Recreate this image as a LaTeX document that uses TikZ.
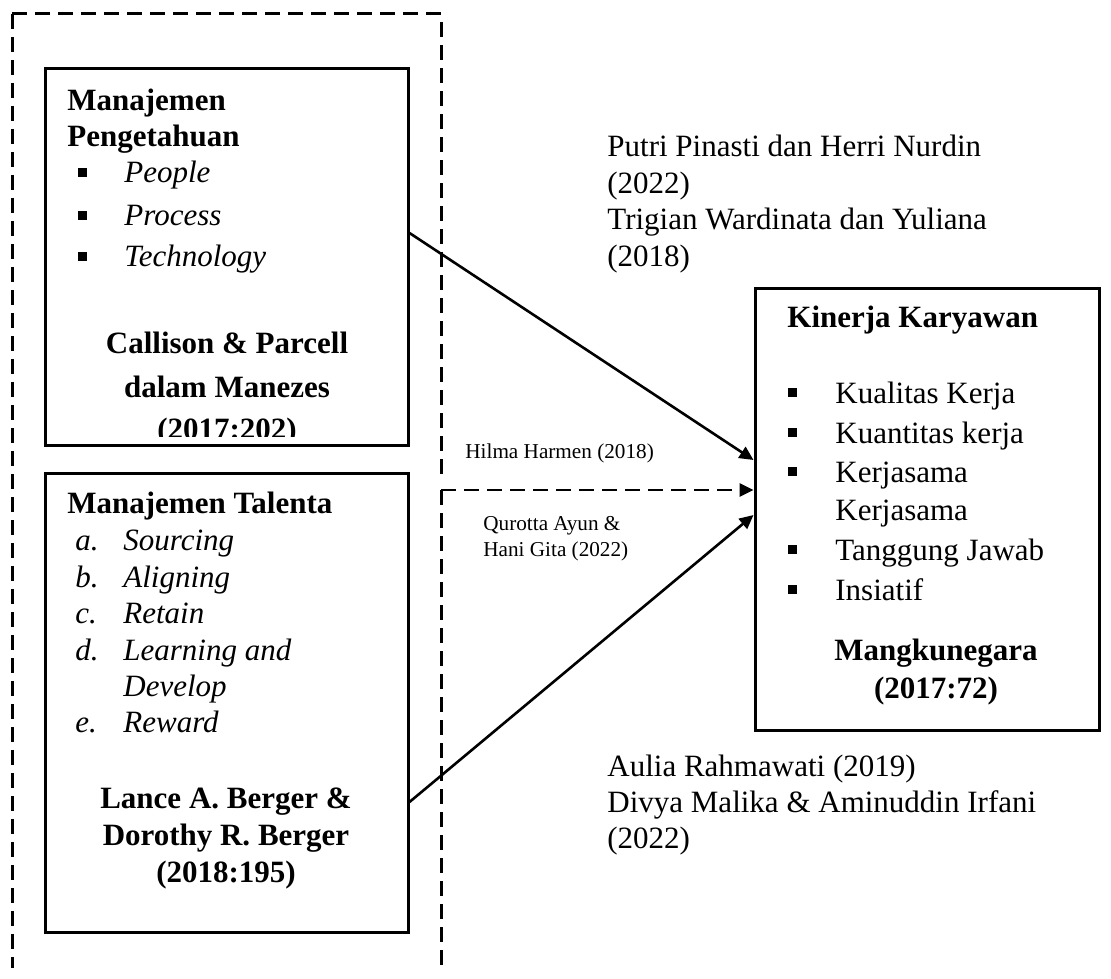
\documentclass[tikz,border=0pt]{standalone}
\usepackage{fontspec}
\setmainfont{Liberation Serif}
\usetikzlibrary{arrows.meta}
\begin{document}
\begin{tikzpicture}[x=0.5pt,y=-0.5pt,
  txt/.style={inner sep=0pt, anchor=base west, font=\fontsize{15.5}{18}\selectfont},
  btxt/.style={txt, font=\fontsize{15.5}{18}\selectfont\bfseries},
  itxt/.style={txt, font=\fontsize{15.5}{18}\selectfont\itshape},
  ctxt/.style={btxt, anchor=base},
  small/.style={inner sep=0pt, anchor=base west, font=\fontsize{10.6}{12}\selectfont},
  box/.style={draw, line width=1.5pt, inner sep=0pt},
  dashline/.style={line width=1.5pt, dash pattern=on 7.5pt off 4pt},
  arr/.style={line width=1.3pt, -{Triangle[length=7pt,width=6.5pt]}},
  bul/.style={fill=black}
]
\useasboundingbox (0,0) rectangle (1111,978);
\clip (0,0) rectangle (1111,978);

% boxes
\node[box, minimum width=181.5pt, minimum height=188pt] (km) at (226.5,257) {};
\node[box, minimum width=181.5pt, minimum height=229.5pt] (mt) at (226.5,702.5) {};
\node[box, minimum width=172pt, minimum height=221pt] (kk) at (927,509) {};

% dashed frame
\coordinate (d1) at (12,968);
\coordinate (d2) at (12,14);
\coordinate (d3) at (441,14);
\coordinate (d4) at (441,478);
\coordinate (d5) at (441,968);
\coordinate (d6) at (441,490);
\draw[dashline] (d2) -- (d3) -- (d4);
\draw[dashline] (d2) -- (d1);
\draw[dashline] (d6) -- (d5);
\draw[dashline, arr] (d6) -- (kk.west |- d6);

% solid arrows
\coordinate (y1) at (0,233);
\coordinate (y2) at (0,460);
\coordinate (y3) at (0,802);
\coordinate (y4) at (0,515);
\draw[arr] (km.east |- y1) -- (kk.west |- y2);
\draw[arr] (mt.east |- y3) -- (kk.west |- y4);

% box 1 text
\node[btxt] (t1a) at (67,111) {Manajemen};
\node[btxt] (t1b) at (67,147) {Pengetahuan};
\fill[bul] (78,168) rectangle (87,177);
\node[itxt] (p1) at (124,183) {People};
\fill[bul] (78,211) rectangle (87,220);
\node[itxt] (p2) at (124,226) {Process};
\fill[bul] (78,252) rectangle (87,261);
\node[itxt] (p3) at (124,267) {Technology};
\node[ctxt] (c1) at (227,353) {Callison \& Parcell};
\node[ctxt] (c2) at (227,397) {dalam Manezes};
\begin{scope}
\clip (45,0) rectangle (408,436);
\node[ctxt] (c3) at (227,439) {(2017:202)};
\end{scope}

% box 2 text
\node[btxt] (t2) at (67,513) {Manajemen Talenta};
\node[itxt] (la) at (75,550) {a.};
\node[itxt] (ia) at (123,550) {Sourcing};
\node[itxt] (lb) at (75,587) {b.};
\node[itxt] (ib) at (123,587) {Aligning};
\node[itxt] (lc) at (75,623) {c.};
\node[itxt] (ic) at (123,623) {Retain};
\node[itxt] (ld) at (75,660) {d.};
\node[itxt] (id) at (123,660) {Learning and};
\node[itxt] (id2) at (123,696) {Develop};
\node[itxt] (le) at (75,732) {e.};
\node[itxt] (ie) at (123,732) {Reward};
\node[ctxt] (l1) at (226,808) {Lance A. Berger \&};
\node[ctxt] (l2) at (226,845) {Dorothy R. Berger};
\node[ctxt] (l3) at (226,882) {(2018:195)};

% right box text
\node[btxt] (k0) at (787,327) {Kinerja Karyawan};
\fill[bul] (788,388) rectangle (797,397);
\node[txt] (k1) at (835,403) {Kualitas Kerja};
\fill[bul] (788,428) rectangle (797,437);
\node[txt] (k2) at (835,443) {Kuantitas kerja};
\fill[bul] (788,467) rectangle (797,476);
\node[txt] (k3) at (835,482) {Kerjasama};
\node[txt] (k4) at (835,520) {Kerjasama};
\fill[bul] (788,545) rectangle (797,554);
\node[txt] (k5) at (835,560) {Tanggung Jawab};
\fill[bul] (788,585) rectangle (797,594);
\node[txt] (k6) at (835,600) {Insiatif};
\node[ctxt] (k7) at (936,660) {Mangkunegara};
\node[ctxt] (k8) at (936,698) {(2017:72)};

% references
\node[txt] (r1) at (607,157) {Putri Pinasti dan Herri Nurdin};
\node[txt] (r2) at (607,193.5) {(2022)};
\node[txt] (r3) at (607,230) {Trigian Wardinata dan Yuliana};
\node[txt] (r4) at (607,266.5) {(2018)};
\node[txt] (r5) at (607,776) {Aulia Rahmawati (2019)};
\node[txt] (r6) at (607,812) {Divya Malika \& Aminuddin Irfani};
\node[txt] (r7) at (607,848) {(2022)};
\node[small] (s1) at (465,458) {Hilma Harmen (2018)};
\node[small] (s2) at (483,530) {Qurotta Ayun \&};
\node[small] (s3) at (483,556) {Hani Gita (2022)};
\end{tikzpicture}
\end{document}
